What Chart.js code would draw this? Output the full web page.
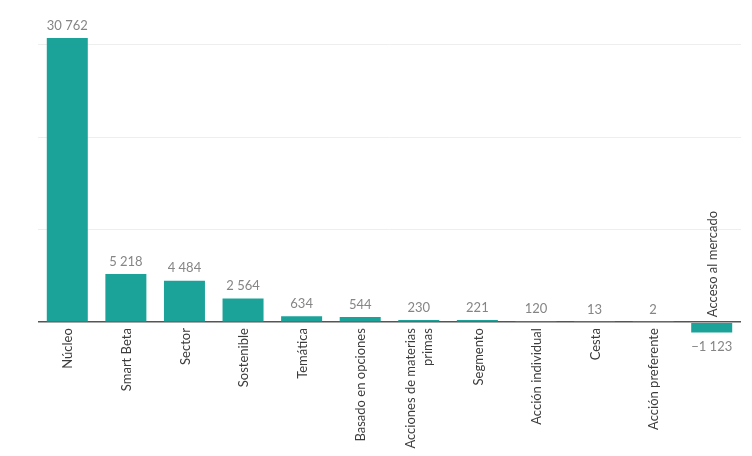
<!DOCTYPE html>
<html>
<head>
<meta charset="utf-8">
<script src="https://cdn.jsdelivr.net/npm/chart.js@4"></script>
<style>
  html, body { margin: 0; padding: 0; background: #fff; }
  #wrap { width: 752px; height: 456px; position: relative; }
</style>
</head>
<body>
<div id="wrap"><canvas id="myChart"></canvas></div>
<script>
// categories (multi-line labels as arrays)
const categories = [
  "Núcleo",
  "Smart Beta",
  "Sector",
  "Sostenible",
  "Temática",
  "Basado en opciones",
  ["Acciones de materias", "primas"],
  "Segmento",
  "Acción individual",
  "Cesta",
  "Acción preferente",
  "Acceso al mercado",
];

const flows = [30762, 5218, 4484, 2564, 634, 544, 230, 221, 120, 13, 2, -1123];

// gridlines shown on the value axis
const gridTicks = [0, 10000, 20000, 30000];

const barColor = "#1ba39a";

// 30 762 style, minus sign for negatives
const fmt = (v) => {
  const s = Math.abs(v).toString().replace(/\B(?=(\d{3})+(?!\d))/g, " ");
  return (v < 0 ? "\u2212" : "") + s;
};

// value labels + rotated category labels, flipped side for negative bars
const labelPlugin = {
  id: "labels",
  afterDatasetsDraw(chart) {
    const ctx = chart.ctx;
    const meta = chart.getDatasetMeta(0);
    const y0 = chart.scales.y.getPixelForValue(0);
    ctx.save();
    meta.data.forEach((bar, i) => {
      const v = flows[i];
      // value label
      ctx.font = "13px Lato";
      ctx.fillStyle = "#858585";
      ctx.textAlign = "center";
      ctx.textBaseline = "middle";
      const vy = v >= 0 ? Math.min(bar.y, y0) - 12.5 : Math.max(bar.y, y0) + 14;
      ctx.fillText(fmt(v), bar.x, vy);

      // category label
      const lines = Array.isArray(categories[i]) ? categories[i] : [categories[i]];
      ctx.fillStyle = "#3c3c3c";
      ctx.save();
      ctx.translate(bar.x, v >= 0 ? y0 + 6 : y0 - 5);
      ctx.rotate(-Math.PI / 2);
      ctx.textAlign = v >= 0 ? "right" : "left";
      ctx.textBaseline = "middle";
      const lh = 17;
      lines.forEach((ln, k) => {
        ctx.fillText(ln, 0, (k - (lines.length - 1) / 2) * lh + 1);
      });
      ctx.restore();
    });
    ctx.restore();
  },
};

const ctx = document.getElementById("myChart").getContext("2d");
const myChart = new Chart(ctx, {
  type: "bar",
  data: {
    labels: categories,
    datasets: [
      {
        data: flows,
        backgroundColor: barColor,
        borderWidth: 0,
        barPercentage: 0.7,
        categoryPercentage: 1,
      },
    ],
  },
  options: {
    responsive: true,
    maintainAspectRatio: false,
    animation: false,
    layout: { padding: { left: 38, right: 11, top: 26.5, bottom: 120 } },
    plugins: {
      legend: { display: false },
      tooltip: { enabled: false },
    },
    scales: {
      x: { display: false },
      y: {
        min: -1500,
        max: 32000,
        afterBuildTicks: (axis) => {
          axis.ticks = gridTicks.map((v) => ({ value: v }));
        },
        ticks: { display: false },
        border: { display: false },
        grid: {
          drawTicks: false,
          color: (c) => (c.tick && c.tick.value === 0 ? "#555555" : "#eeeeee"),
          lineWidth: (c) => (c.tick && c.tick.value === 0 ? 1.5 : 1),
        },
      },
    },
  },
  plugins: [labelPlugin],
});
</script>
</body>
</html>
